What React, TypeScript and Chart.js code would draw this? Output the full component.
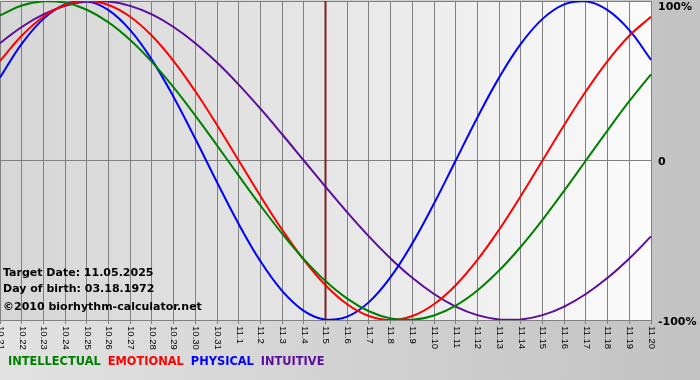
import React, { useEffect, useRef } from 'react';
import { Chart, registerables } from 'chart.js';
Chart.register(...registerables);

const dateLabels = [
  '10.21', '10.22', '10.23', '10.24', '10.25', '10.26', '10.27', '10.28', '10.29', '10.30', '10.31',
  '11.1', '11.2', '11.3', '11.4', '11.5', '11.6', '11.7', '11.8', '11.9', '11.10', '11.11', '11.12',
  '11.13', '11.14', '11.15', '11.16', '11.17', '11.18', '11.19', '11.20',
];

const intellectual = [
  0.9096, 0.9718, 0.9989, 0.9898, 0.945, 0.866, 0.7557, 0.6182, 0.4582, 0.2817, 0.0951, -0.0951,
  -0.2817, -0.4582, -0.6182, -0.7557, -0.866, -0.945, -0.9898, -0.9989, -0.9718, -0.9096, -0.8146,
  -0.6901, -0.5406, -0.3717, -0.1893, 0, 0.1893, 0.3717, 0.5406,
];
const emotional = [
  0.6235, 0.7818, 0.901, 0.9749, 1.0, 0.9749, 0.901, 0.7818, 0.6235, 0.4339, 0.2225, 0, -0.2225,
  -0.4339, -0.6235, -0.7818, -0.901, -0.9749, -1.0, -0.9749, -0.901, -0.7818, -0.6235, -0.4339,
  -0.2225, 0, 0.2225, 0.4339, 0.6235, 0.7818, 0.901,
];
const physical = [
  0.5196, 0.7308, 0.8879, 0.9791, 0.9977, 0.9423, 0.817, 0.6311, 0.3984, 0.1362, -0.1362, -0.3984,
  -0.6311, -0.817, -0.9423, -0.9977, -0.9791, -0.8879, -0.7308, -0.5196, -0.2698, 0, 0.2698, 0.5196,
  0.7308, 0.8879, 0.9791, 0.9977, 0.9423, 0.817, 0.6311,
];
const intuitive = [
  0.7357, 0.8372, 0.9158, 0.9694, 0.9966, 0.9966, 0.9694, 0.9158, 0.8372, 0.7357, 0.6142, 0.4759,
  0.3247, 0.1646, 0, -0.1646, -0.3247, -0.4759, -0.6142, -0.7357, -0.8372, -0.9158, -0.9694, -0.9966,
  -0.9966, -0.9694, -0.9158, -0.8372, -0.7357, -0.6142, -0.4759,
];

const yTickValues = [1, 0, -1];
const yTickTexts = ['100%', '0', '-100%'];
const targetLabel = '11.5';
const infoLines = ['Target Date: 11.05.2025', 'Day of birth: 03.18.1972', '\u00A92010 biorhythm-calculator.net'];
const legendNames = ['INTELLECTUAL', 'EMOTIONAL', 'PHYSICAL', 'INTUITIVE'];
const seriesColors = ['#008000', '#ff0000', '#0000ff', '#5c0d99'];

const decorPlugin = {
  id: 'decor',
  beforeDraw(chart: any) {
    const { ctx, width, height, chartArea } = chart;
    ctx.save();
    const g = ctx.createLinearGradient(0, 0, width, 0);
    g.addColorStop(0, '#e2e2e2');
    g.addColorStop(1, '#c2c2c2');
    ctx.fillStyle = g;
    ctx.fillRect(0, 0, width, height);
    const pg = ctx.createLinearGradient(chartArea.left, 0, chartArea.right, 0);
    pg.addColorStop(0, '#d6d6d6');
    pg.addColorStop(0.5, '#e6e6e6');
    pg.addColorStop(1, '#fbfbfb');
    ctx.fillStyle = pg;
    ctx.fillRect(chartArea.left, chartArea.top, chartArea.right - chartArea.left, chartArea.bottom - chartArea.top);
    ctx.restore();
  },
  beforeDatasetsDraw(chart: any) {
    const { ctx, chartArea, scales } = chart;
    const x = scales.x.getPixelForValue(dateLabels.indexOf(targetLabel));
    ctx.save();
    ctx.strokeStyle = '#7e1f28';
    ctx.lineWidth = 2;
    ctx.beginPath();
    ctx.moveTo(x, chartArea.top);
    ctx.lineTo(x, chartArea.bottom);
    ctx.stroke();
    ctx.fillStyle = '#000';
    ctx.font = 'bold 11px "DejaVu Sans"';
    ctx.textAlign = 'left';
    ctx.textBaseline = 'alphabetic';
    const baselines = [276, 292, 310];
    infoLines.forEach((t, i) => ctx.fillText(t, 3, baselines[i]));
    ctx.restore();
  },
  afterDraw(chart: any) {
    const { ctx, chartArea, scales } = chart;
    ctx.save();
    ctx.fillStyle = '#000';
    ctx.font = '9.5px "Liberation Sans"';
    ctx.textAlign = 'left';
    ctx.textBaseline = 'middle';
    dateLabels.forEach((lab, i) => {
      const x = scales.x.getPixelForValue(i);
      ctx.save();
      ctx.translate(x + 0.5, chartArea.bottom + 6);
      ctx.rotate(Math.PI / 2);
      ctx.fillText(lab, 0, 0);
      ctx.restore();
    });
    ctx.fillStyle = '#000';
    ctx.font = 'bold 11px "DejaVu Sans"';
    yTickValues.forEach((v, i) => {
      const y = Math.max(scales.y.getPixelForValue(v) + 2, chartArea.top + 6);
      ctx.fillText(yTickTexts[i], chartArea.right + 7, y);
    });
    ctx.font = 'bold 11.4px "DejaVu Sans"';
    let lx = 8;
    legendNames.forEach((name, i) => {
      ctx.fillStyle = seriesColors[i];
      ctx.fillText(name, lx, 362);
      lx += ctx.measureText(name).width + 7;
    });
    ctx.restore();
  },
};

export default function App() {
  const ref = useRef<HTMLCanvasElement | null>(null);
  useEffect(() => {
    if (!ref.current) return;
    const mk = (label: string, data: number[], color: string) => ({
      label,
      data,
      borderColor: color,
      backgroundColor: color,
      borderWidth: 2,
      pointRadius: 0,
      tension: 0.4,
      fill: false,
    });
    const chart = new Chart(ref.current, {
      type: 'line',
      data: {
        labels: dateLabels,
        datasets: [
          mk(legendNames[0], intellectual, seriesColors[0]),
          mk(legendNames[1], emotional, seriesColors[1]),
          mk(legendNames[2], physical, seriesColors[2]),
          mk(legendNames[3], intuitive, seriesColors[3]),
        ],
      },
      options: {
        animation: false,
        responsive: true,
        maintainAspectRatio: false,
        layout: { padding: { top: 1, left: 0, right: 0, bottom: 0 } },
        plugins: { legend: { display: false }, tooltip: { enabled: false } },
        scales: {
          x: {
            type: 'category',
            offset: false,
            grid: { color: '#808080', lineWidth: 1, drawTicks: true, tickLength: 4 },
            border: { display: true, color: '#808080' },
            ticks: { display: false, autoSkip: false },
            afterFit: (s: any) => { s.height = 60; },
          },
          y: {
            position: 'right',
            min: -1,
            max: 1,
            ticks: { display: false, stepSize: 1 },
            grid: { color: '#808080', lineWidth: 1, drawTicks: false },
            border: { display: false },
            afterFit: (s: any) => { s.width = 49; },
          },
        },
      },
      plugins: [decorPlugin],
    });
    return () => chart.destroy();
  }, []);
  return (
    <div style={{ position: 'absolute', left: 0, top: 0, width: 700, height: 380 }}>
      <canvas ref={ref} />
    </div>
  );
}
